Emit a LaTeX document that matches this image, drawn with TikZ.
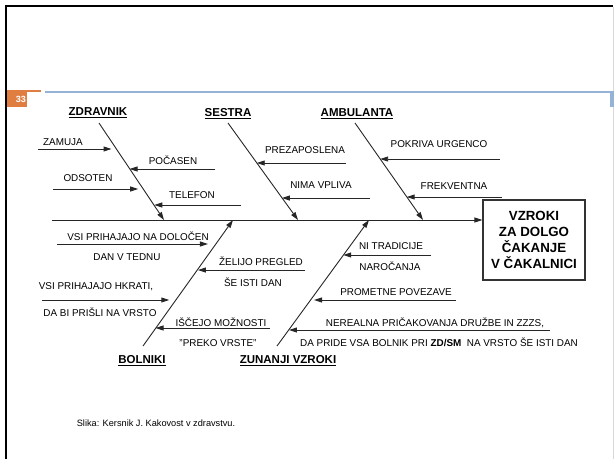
\documentclass[tikz,border=0pt]{standalone}
\usepackage{fontspec}
\setmainfont{Liberation Sans}
\usetikzlibrary{arrows.meta,calc}
\definecolor{slideorange}{RGB}{224,126,66}
\definecolor{slideblue}{RGB}{149,179,215}
\begin{document}
\begin{tikzpicture}[x=1pt,y=-1pt,
    bone/.style={line width=0.9pt, draw=black!85, -{Triangle[length=8pt,width=5pt]}},
    causearrow/.style={line width=0.9pt, draw=black!85, -{Triangle[length=8pt,width=5pt]}},
    gapped/.style={shorten >=5pt},
    causelbl/.style={font=\fontsize{9.9}{10}\selectfont, inner sep=0pt},
    bonelbl/.style={font=\fontsize{11.5}{12}\selectfont\bfseries, inner sep=0pt},
    effectbox/.style={draw=black!80, line width=1.2pt, minimum width=102pt, minimum height=80pt,
        align=center, font=\fontsize{13.3}{16}\selectfont\bfseries}]
        \useasboundingbox (0,0) rectangle (614,459);

        %slide frame
        \draw[line width=2pt] (6,459) -- (6,6) -- (613,6);
        \draw[black!15, line width=0.8pt] (613,7) -- (613,459);
        \fill[slideorange] (7,90) rectangle (27,107);
        \node[text=white, font=\fontsize{9}{9}\selectfont\bfseries, inner sep=0pt] (slideno) at (21,99) {33};
        \draw[slideorange, line width=1.5pt] (27,91) -- (41,91);
        \draw[slideblue, line width=2pt] (45,91.5) -- (612,91.5);
        \fill[slideblue] (610,91) rectangle (613.5,107);

        %effect and spine
        \node[effectbox] (effect) at (534,240) {VZROKI\\ZA DOLGO\\ČAKANJE\\V ČAKALNICI};
        \coordinate (spine) at (52,220);
        \draw[bone] (spine) -- (spine -| effect.west);

        %bone labels
        \node[bonelbl] (zdravnik) at (98,113) {\underline{ZDRAVNIK}};
        \node[bonelbl] (sestra) at (228,114) {\underline{SESTRA}};
        \node[bonelbl] (ambulanta) at (357,114) {\underline{AMBULANTA}};
        \node[bonelbl] (bolniki) at (142,361) {\underline{BOLNIKI}};
        \node[bonelbl] (zunanji) at (288,361) {\underline{ZUNANJI VZROKI}};

        %bones
        \coordinate (zdrS) at (99,123);   \coordinate (zdrE) at (164,220);
        \coordinate (sesS) at (228,123);  \coordinate (sesE) at (298,220);
        \coordinate (ambS) at (355,123);  \coordinate (ambE) at (423,220);
        \coordinate (bolS) at (143,346);  \coordinate (bolE) at (233,220);
        \coordinate (zunS) at (277,346);  \coordinate (zunE) at (369,220);
        \draw[bone] (zdrS) -- (zdrE);
        \draw[bone] (sesS) -- (sesE);
        \draw[bone] (ambS) -- (ambE);
        \draw[bone] (bolS) -- (bolE);
        \draw[bone] (zunS) -- (zunE);

        %causes: zdravnik
        \node[causelbl] (zamuja) at (63,142) {ZAMUJA};
        \coordinate (zamujaT) at (38,149);
        \coordinate (zamujaB) at ($(zdrS)!0.27!(zdrE)$);
        \draw[causearrow, gapped] (zamujaT) -- (zamujaT -| zamujaB);

        \node[causelbl] (pocasen) at (173,160) {POČASEN};
        \coordinate (pocasenT) at (215,169);
        \coordinate (pocasenB) at ($(zdrS)!0.47!(zdrE)$);
        \draw[causearrow] (pocasenT) -- (pocasenT -| pocasenB);

        \node[causelbl] (odsoten) at (88,178) {ODSOTEN};
        \coordinate (odsotenT) at (53,189);
        \coordinate (odsotenB) at ($(zdrS)!0.68!(zdrE)$);
        \draw[causearrow, gapped] (odsotenT) -- (odsotenT -| odsotenB);

        \node[causelbl] (telefon) at (192,195) {TELEFON};
        \coordinate (telefonT) at (241,205);
        \coordinate (telefonB) at ($(zdrS)!0.85!(zdrE)$);
        \draw[causearrow] (telefonT) -- (telefonT -| telefonB);

        %causes: sestra
        \node[causelbl] (prezap) at (305,150) {PREZAPOSLENA};
        \coordinate (prezapT) at (346,163);
        \coordinate (prezapB) at ($(sesS)!0.41!(sesE)$);
        \draw[causearrow] (prezapT) -- (prezapT -| prezapB);

        \node[causelbl] (nimavpliva) at (321,185) {NIMA VPLIVA};
        \coordinate (nimavplivaT) at (370,198);
        \coordinate (nimavplivaB) at ($(sesS)!0.77!(sesE)$);
        \draw[causearrow] (nimavplivaT) -- (nimavplivaT -| nimavplivaB);

        %causes: ambulanta
        \node[causelbl] (urgenca) at (439,144) {POKRIVA URGENCO};
        \coordinate (urgencaT) at (500,159);
        \coordinate (urgencaB) at ($(ambS)!0.37!(ambE)$);
        \draw[causearrow] (urgencaT) -- (urgencaT -| urgencaB);

        \node[causelbl] (frekv) at (454,186) {FREKVENTNA};
        \coordinate (frekvT) at (502,197);
        \coordinate (frekvB) at ($(ambS)!0.76!(ambE)$);
        \draw[causearrow] (frekvT) -- (frekvT -| frekvB);

        %causes: bolniki
        \node[causelbl] (dolocen) at (138,236) {VSI PRIHAJAJO NA DOLOČEN};
        \node[causelbl] (dolocen2) at (127,257) {DAN V TEDNU};
        \coordinate (dolocenT) at (57,244);
        \coordinate (dolocenB) at ($(bolE)!0.19!(bolS)$);
        \draw[causearrow, gapped, shorten >=8pt] (dolocenT) -- (dolocenT -| dolocenB);

        \node[causelbl] (hkrati) at (96,287) {VSI PRIHAJAJO HKRATI,};
        \node[causelbl] (hkrati2) at (100,312) {DA BI PRIŠLI NA VRSTO};
        \coordinate (hkratiT) at (42,300);
        \coordinate (hkratiB) at ($(bolE)!0.63!(bolS)$);
        \draw[causearrow, gapped, shorten >=7pt] (hkratiT) -- (hkratiT -| hkratiB);

        \node[causelbl] (zelijo) at (261,261) {ŽELIJO PREGLED};
        \node[causelbl] (zelijo2) at (253,282) {ŠE ISTI DAN};
        \coordinate (zelijoT) at (305,270);
        \coordinate (zelijoB) at ($(bolE)!0.39!(bolS)$);
        \draw[causearrow] (zelijoT) -- (zelijoT -| zelijoB);

        \node[causelbl] (iscejo) at (221,322) {IŠČEJO MOŽNOSTI};
        \node[causelbl] (iscejo2) at (218,343) {"PREKO VRSTE"};
        \coordinate (iscejoT) at (270,328);
        \coordinate (iscejoB) at ($(bolE)!0.86!(bolS)$);
        \draw[causearrow] (iscejoT) -- (iscejoT -| iscejoB);

        %causes: zunanji vzroki
        \node[causelbl] (tradicija) at (391,246) {NI TRADICIJE};
        \node[causelbl] (tradicija2) at (390,266) {NAROČANJA};
        \coordinate (tradicijaT) at (431,255);
        \coordinate (tradicijaB) at ($(zunE)!0.28!(zunS)$);
        \draw[causearrow] (tradicijaT) -- (tradicijaT -| tradicijaB);

        \node[causelbl] (promet) at (396,292) {PROMETNE POVEZAVE};
        \coordinate (prometT) at (456,300);
        \coordinate (prometB) at ($(zunE)!0.63!(zunS)$);
        \draw[causearrow, shorten >=3pt] (prometT) -- (prometT -| prometB);

        \node[causelbl] (nerealna) at (435,323) {NEREALNA PRIČAKOVANJA DRUŽBE IN ZZZS,};
        \node[causelbl] (nerealna2) at (439,342) {DA PRIDE VSA BOLNIK PRI \textbf{ZD/SM}\ \ NA VRSTO ŠE ISTI DAN};
        \coordinate (nerealnaT) at (550,330);
        \coordinate (nerealnaB) at ($(zunE)!0.87!(zunS)$);
        \draw[causearrow] (nerealnaT) -- (nerealnaT -| nerealnaB);

        %source
        \node[font=\fontsize{9.2}{10}\selectfont, inner sep=0pt] (source) at (156,423) {Slika: Kersnik J. Kakovost v zdravstvu.};
\end{tikzpicture}
\end{document}
